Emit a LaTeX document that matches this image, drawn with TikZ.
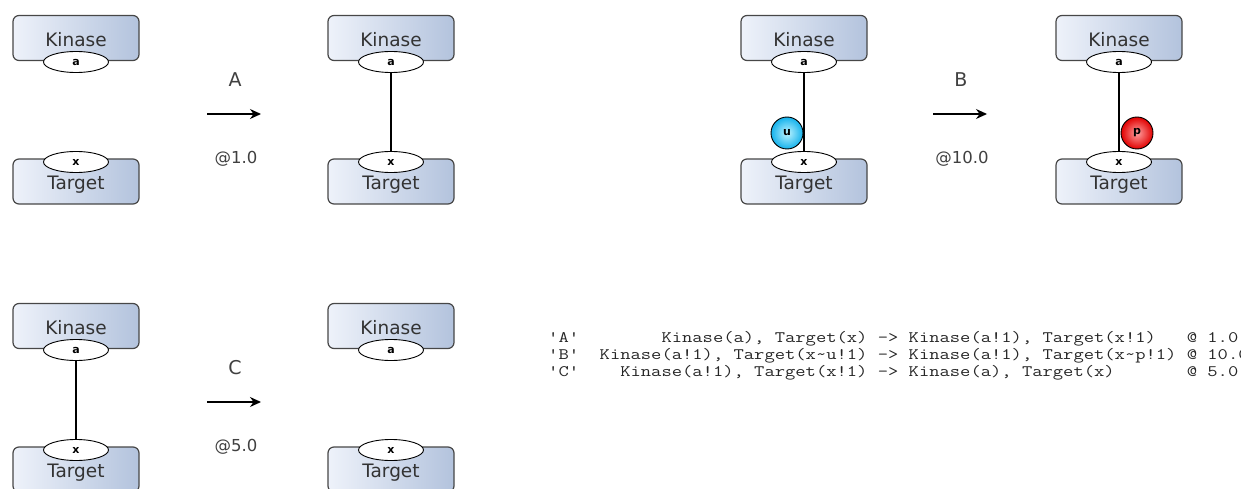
\documentclass[tikz,border=0pt]{standalone}
\usepackage{fontspec}
\usepackage{graphicx}
\setmainfont{DejaVu Sans}
\usetikzlibrary{arrows.meta,shapes.geometric}
\definecolor{boxl}{HTML}{EEF2FA}
\definecolor{boxr}{HTML}{B3C3DD}
\definecolor{edge}{HTML}{474747}
\definecolor{uin}{HTML}{BDF3FF}
\definecolor{uout}{HTML}{14B2EC}
\definecolor{pin}{HTML}{FFA0A0}
\definecolor{pout}{HTML}{E10000}
\newcommand{\ruletext}[1]{\scalebox{1.25}[1]{#1}}
\begin{document}
\begin{tikzpicture}[x=1pt,y=-1pt,>={Stealth[length=11pt,width=10pt]},
    box/.style={draw=edge,line width=1.2pt,rounded corners=6pt,left color=boxl,right color=boxr,
      minimum width=126pt,minimum height=45pt,inner sep=0pt,text height=16.5pt,text depth=0pt,
      text=black!80,font=\fontsize{18.5}{18.5}\selectfont},
    site/.style={ellipse,draw,fill=white,line width=0.9pt,minimum width=65pt,minimum height=21pt,
      inner sep=0pt,font=\fontsize{11}{11}\selectfont\bfseries},
    state/.style={circle,draw,line width=0.9pt,minimum size=32pt,inner sep=0pt,
      font=\fontsize{11}{11}\selectfont\bfseries},
    lbl/.style={text=black!75,font=\fontsize{19}{19}\selectfont},
    rate/.style={text=black!75,font=\fontsize{16.5}{16.5}\selectfont},
    rule/.style={anchor=base west,inner sep=0pt,text height=11pt,text depth=3pt,
      text=black!85,font=\ttfamily\fontsize{16}{17}\selectfont}]
    \useasboundingbox (0,0) rectangle (1241,489);
    % the six Kinase / Target pairs
    \foreach \n/\x/\y in {1/76/0,2/391/0,3/804/0,4/1119/0,5/76/288,6/391/288}{
        \node[box] (k\n) at (\x,38+\y) {Kinase};
        \node[box] (t\n) at (\x,181.5+\y) {Target};
        \node[site] (a\n) at (\x,62+\y) {a};
        \node[site] (x\n) at (\x,162+\y) {x};
    }
    \node[state,inner color=uin,outer color=uout] (u3) at (787,133) {u};
    \node[state,inner color=pin,outer color=pout] (p4) at (1137,133) {p};
    % bonds
    \draw[line width=1.1pt] (a2) -- (x2);
    \draw[line width=1.1pt] (a3) -- (x3);
    \draw[line width=1.1pt] (a4) -- (x4);
    \draw[line width=1.1pt] (a5) -- (x5);
    % reaction arrows
    \foreach \r/\x/\y/\k in {A/207/114/1.0,B/933/114/10.0,C/207/402/5.0}{
        \coordinate (\r0) at (\x,\y);
        \coordinate (\r1) at (\x+54,\y);
        \draw[line width=1.4pt,->] (\r0) -- (\r1);
        \node[lbl] (lab\r) at (\x+28,\y-34) {\r};
        \node[rate] (rate\r) at (\x+29,\y+45) {@\k};
    }
    % the rules as text
    \node[rule] (ruleA) at (548,342) {\ruletext{'A'~~~~~~~~Kinase(a), Target(x) -> Kinase(a!1), Target(x!1)~~~@ 1.0}};
    \node[rule] (ruleB) at (548,359) {\ruletext{'B'~~Kinase(a!1), Target(x\textasciitilde u!1) -> Kinase(a!1), Target(x\textasciitilde p!1) @ 10.0}};
    \node[rule] (ruleC) at (548,376) {\ruletext{'C'~~~~Kinase(a!1), Target(x!1) -> Kinase(a), Target(x)~~~~~~~@ 5.0}};
\end{tikzpicture}
\end{document}
